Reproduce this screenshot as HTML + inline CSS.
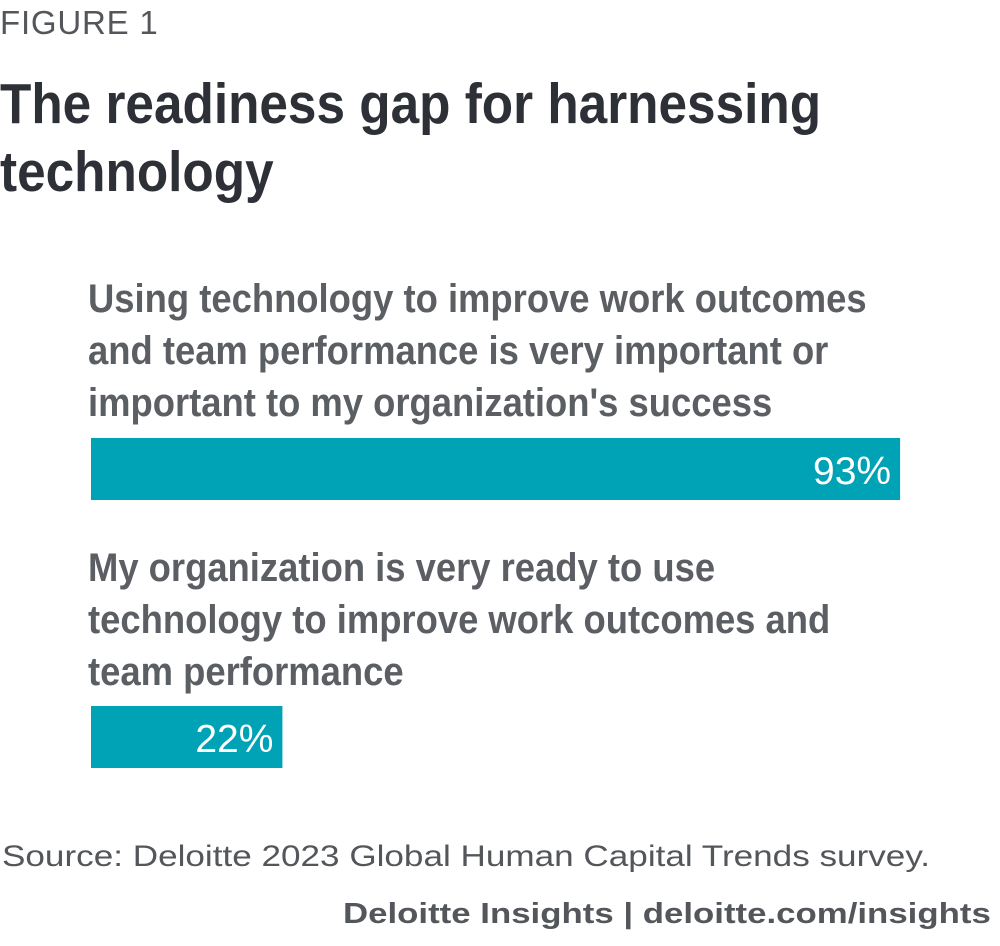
<!DOCTYPE html>
<html><head><meta charset="utf-8"><style>
body{margin:0;width:1000px;height:946px;background:#fff;position:relative;overflow:hidden;font-family:"Liberation Sans",sans-serif}
.a{position:absolute;white-space:nowrap;transform-origin:0 0}
.fig{left:0;top:4px;font-size:33px;color:#53565a;letter-spacing:0.8px}
.title{left:0;top:70px;font-weight:bold;font-size:57px;line-height:68px;color:#2e3038;transform:scaleX(0.9)}
.lab{left:88px;font-weight:bold;font-size:40px;line-height:52px;color:#5b5e63;transform:scaleX(0.91)}
.src{left:2px;top:840px;font-size:30px;color:#53565a;transform:scaleX(1.17)}
.foot{left:343px;top:898px;font-size:29px;color:#53565a;font-weight:bold;transform:scaleX(1.2)}
</style></head><body>
<div class="a fig">FIGURE 1</div>
<div class="a title">The readiness gap for harnessing<br>technology</div>
<div class="a lab" style="top:273px">Using technology to improve work outcomes<br>and team performance is very important or<br>important to my organization's success</div>
<div class="a lab" style="top:542px">My organization is very ready to use<br>technology to improve work outcomes and<br>team performance</div>
<svg id="chart" class="a" style="left:0;top:0" width="1000" height="946"></svg>
<div class="a src">Source: Deloitte 2023 Global Human Capital Trends survey.</div>
<div class="a foot">Deloitte Insights | deloitte.com/insights</div>
<script>
const categories=["importance","readiness"];
const values=[93,22];
const valueLabels=["93%","22%"];
const svg=document.getElementById('chart');
const NS="http://www.w3.org/2000/svg";
const x0=91, fullW=870;
const xScale=v=>v/100*fullW;
const barTops=[438,706], barH=62;
values.forEach((v,i)=>{
  const r=document.createElementNS(NS,'rect');
  r.setAttribute('x',x0);r.setAttribute('y',barTops[i]);
  r.setAttribute('width',xScale(v));r.setAttribute('height',barH);
  r.setAttribute('fill','#00a3b5');
  
  
  svg.appendChild(r);
  const t=document.createElementNS(NS,'text');
  t.setAttribute('x',x0+xScale(v)-9);t.setAttribute('y',barTops[i]+46);
  t.setAttribute('text-anchor','end');t.setAttribute('fill','#fff');
  t.setAttribute('font-size','39');t.setAttribute('font-family','"Liberation Sans",sans-serif');
  t.textContent=valueLabels[i];
  
  
  svg.appendChild(t);
});
</script>
</body></html>
